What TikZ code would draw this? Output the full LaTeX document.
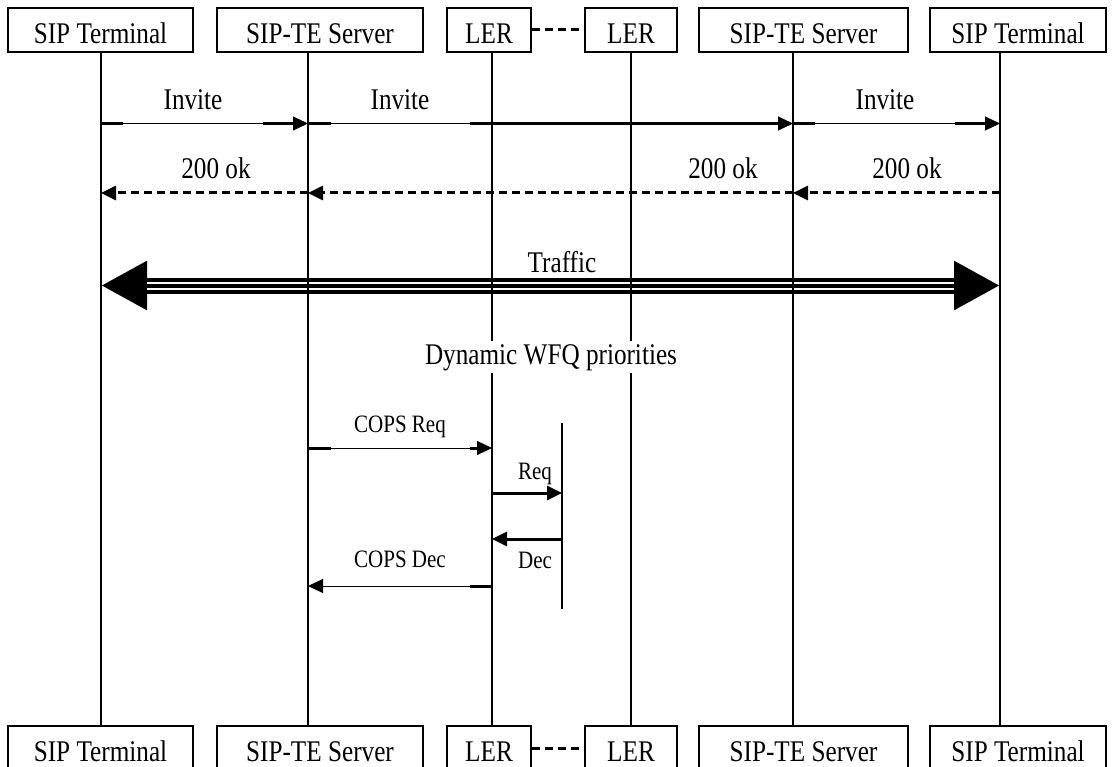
\documentclass[tikz,border=0pt]{standalone}
\usepackage{fontspec}
\setmainfont{Liberation Serif}[FakeStretch=0.84]
\usetikzlibrary{arrows.meta,calc}
\newcommand\dgbig{\fontsize{30}{34}\selectfont}
\newcommand\dgsmall{\fontsize{25}{28}\selectfont}
\begin{document}
\begin{tikzpicture}[x=1pt,y=-1pt,
  box/.style={draw, line width=1.4pt, inner sep=0pt, minimum height=44pt,
              text height=28pt, text depth=0pt, font=\dgbig},
  bbox/.style={box, text height=26pt},
  life/.style={line width=1.4pt},
  lbl/.style={inner sep=0pt, anchor=base, font=\dgbig},
  slbl/.style={inner sep=0pt, anchor=base, font=\dgsmall},
  tip/.style={-{Triangle[length=15pt,width=14pt]}},
  thinmsg/.style={line width=1pt, tip},
  thickmsg/.style={line width=3pt, tip},
  okmsg/.style={line width=3pt, dash pattern=on 8pt off 5pt, tip},
  linkline/.style={line width=3pt, dash pattern=on 8pt off 5pt},
  seg/.style={line width=3pt},
]
\useasboundingbox (0,0) rectangle (1115,767);

% top boxes
\node[box, minimum width=185pt] (t1) at (100.5,30) {SIP Terminal};
\node[box, minimum width=206pt] (s1) at (320,30) {SIP-TE Server};
\node[box, minimum width=84pt]  (r1) at (489,30) {LER};
\node[box, minimum width=92pt]  (r2) at (631,30) {LER};
\node[box, minimum width=209pt] (s2) at (803.5,30) {SIP-TE Server};
\node[box, minimum width=176pt] (t2) at (1018,30) {SIP Terminal};
\draw[linkline] (r1.east) -- (r2.west);

% bottom boxes
\node[bbox, minimum width=185pt] (bt1) at (100.5,748) {SIP Terminal};
\node[bbox, minimum width=206pt] (bs1) at (320,748) {SIP-TE Server};
\node[bbox, minimum width=84pt]  (br1) at (489,748) {LER};
\node[bbox, minimum width=92pt]  (br2) at (631,748) {LER};
\node[bbox, minimum width=209pt] (bs2) at (803.5,748) {SIP-TE Server};
\node[bbox, minimum width=176pt] (bt2) at (1018,748) {SIP Terminal};
\draw[linkline] (br1.east) -- (br2.west);

% traffic
\coordinate (trL) at (101,285.5);
\coordinate (trR) at (1000,285.5);
\draw[line width=16pt, {Triangle[length=46pt,width=46pt]}-{Triangle[length=46pt,width=46pt]}] (trL) -- (trR);
\draw[white, line width=2pt] ($(trL)+(46,-3)$) -- ($(trR)+(-46,-3)$);
\draw[white, line width=2pt] ($(trL)+(46,3)$) -- ($(trR)+(-46,3)$);

% lifelines
\foreach \n/\x in {1/101,2/308,3/492,4/631,5/793,6/1000}{
  \coordinate (top\n) at (\x,52);
  \coordinate (bot\n) at (\x,726);
  \draw[life] (top\n) -- (bot\n);
}
\coordinate (pst) at (562,423);
\coordinate (psb) at (562,609);
\draw[life] (pst) -- (psb);

% labels
\node[lbl] (inv1) at (193,110) {Invite};
\node[lbl] (inv2) at (400,110) {Invite};
\node[lbl] (inv3) at (885,110) {Invite};
\node[lbl] (ok1) at (216,179) {200 ok};
\node[lbl] (ok2) at (723,179) {200 ok};
\node[lbl] (ok3) at (907,179) {200 ok};
\node[lbl] (traf) at (562,272) {Traffic};
\node[lbl, fill=white, inner ysep=3pt, inner xsep=1pt] (wfq) at (551,364) {Dynamic WFQ priorities};
\node[slbl] (creq) at (400,432) {COPS Req};
\node[slbl] (req) at (535,479) {Req};
\node[slbl] (dec) at (535,568) {Dec};
\node[slbl] (cdec) at (400,567) {COPS Dec};

% invite messages
\coordinate (i1a) at (101,123.5);
\coordinate (i1b) at (308,123.5);
\coordinate (i2a) at (308,123.5);
\coordinate (i2b) at (793,123.5);
\coordinate (i3a) at (793,123.5);
\coordinate (i3b) at (1000,123.5);
\draw[thinmsg] (i1a) -- (i1b);
\draw[seg] (i1a) -- ++(22,0);
\draw[seg] ($(i1b)+(-45,0)$) -- ($(i1b)+(-12,0)$);
\draw[thinmsg] (i2a) -- (i2b);
\draw[seg] (i2a) -- ++(23,0);
\draw[seg] ($(i2a)+(162,0)$) -- ($(i2b)+(-12,0)$);
\draw[thinmsg] (i3a) -- (i3b);
\draw[seg] (i3a) -- ++(22,0);
\draw[seg] ($(i3b)+(-45,0)$) -- ($(i3b)+(-12,0)$);

% 200 ok messages
\coordinate (o1a) at (308,193);
\coordinate (o1b) at (101,193);
\coordinate (o2a) at (793,193);
\coordinate (o2b) at (308,193);
\coordinate (o3a) at (1000,193);
\coordinate (o3b) at (793,193);
\draw[okmsg] (o1a) -- (o1b);
\draw[okmsg] (o2a) -- (o2b);
\draw[okmsg] (o3a) -- (o3b);

% COPS
\coordinate (c1a) at (308,448);
\coordinate (c1b) at (492,448);
\draw[thinmsg] (c1a) -- (c1b);
\draw[seg] (c1a) -- ++(23,0);
\draw[seg] ($(c1b)+(-22,0)$) -- ($(c1b)+(-12,0)$);
\coordinate (rqa) at (492,493);
\coordinate (rqb) at (562,493);
\draw[thickmsg] (rqa) -- (rqb);
\coordinate (dca) at (562,539);
\coordinate (dcb) at (492,539);
\draw[thickmsg] (dca) -- (dcb);
\coordinate (c2a) at (492,586);
\coordinate (c2b) at (308,586);
\draw[thinmsg] (c2a) -- (c2b);
\draw[seg] (c2a) -- ++(-22,0);
\end{tikzpicture}
\end{document}
